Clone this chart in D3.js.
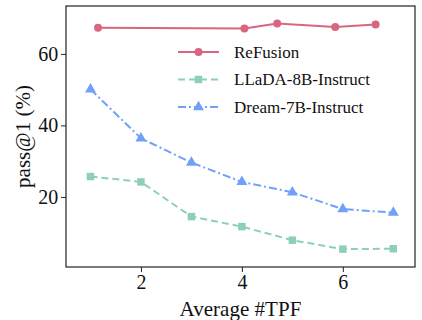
<!DOCTYPE html>
<html>
<head>
<meta charset="utf-8">
<script src="https://cdn.jsdelivr.net/npm/d3@7"></script>
<style>
  html, body { margin: 0; padding: 0; background: #fff; }
</style>
</head>
<body>
<div id="app"></div>
<script>
const refusionX = [1.15, 4.05, 4.7, 5.85, 6.65]
const refusionY = [67.3, 67.1, 68.5, 67.5, 68.2]
const baseX = [1, 2, 3, 4, 5, 6, 7]
const lladaY = [25.7, 24.2, 14.5, 11.7, 7.9, 5.4, 5.5]
const dreamY = [50.1, 36.4, 29.6, 24.2, 21.3, 16.6, 15.6]
const xTicks = [2, 4, 6]
const yTicks = [20, 40, 60]

const seriesNames = ['ReFusion', 'LLaDA-8B-Instruct', 'Dream-7B-Instruct']
const seriesColors = ['#d9667f', '#8dcfbc', '#6fa1fa']

// big sizes fall back to sans here, so draw at 18px and scale up
const FONT = 'Liberation Serif'
const width = 422, height = 320
const margin = { top: 6, right: 7, bottom: 53, left: 66 }

const svg = d3.select('#app').append('svg')
  .attr('width', width).attr('height', height)

const x = d3.scaleLinear().domain([0.515, 7.43]).range([margin.left, width - margin.right])
const y = d3.scaleLinear().domain([0.4, 73.4]).range([height - margin.bottom, margin.top])

const series = [
  { name: seriesNames[0], color: seriesColors[0], dash: null, marker: 'circle',
    pts: refusionX.map((d, i) => [d, refusionY[i]]) },
  { name: seriesNames[1], color: seriesColors[1], dash: '7,4', marker: 'square',
    pts: baseX.map((d, i) => [d, lladaY[i]]) },
  { name: seriesNames[2], color: seriesColors[2], dash: '8,3,2,3', marker: 'triangle',
    pts: baseX.map((d, i) => [d, dreamY[i]]) },
]

const symbols = { circle: d3.symbolCircle, square: d3.symbolSquare, triangle: d3.symbolTriangle }
const symbolSize = { circle: 50, square: 56, triangle: 52 }

const line = d3.line().x((d) => x(d[0])).y((d) => y(d[1]))

const g = svg.append('g')

series.forEach((s) => {
  g.append('path')
    .datum(s.pts)
    .attr('d', line)
    .attr('fill', 'none')
    .attr('stroke', s.color)
    .attr('stroke-width', 2)
    .attr('stroke-dasharray', s.dash)
  g.selectAll(null)
    .data(s.pts)
    .join('path')
    .attr('transform', (d) => `translate(${x(d[0])},${y(d[1])})`)
    .attr('d', d3.symbol(symbols[s.marker], symbolSize[s.marker]))
    .attr('fill', s.color)
})

// axes
const xAxis = svg.append('g')
  .attr('transform', `translate(0,${height - margin.bottom})`)
  .call(d3.axisBottom(x).tickValues(xTicks).tickFormat(d3.format('d')).tickSize(5).tickPadding(2))
const yAxis = svg.append('g')
  .attr('transform', `translate(${margin.left},0)`)
  .call(d3.axisLeft(y).tickValues(yTicks).tickFormat(d3.format('d')).tickSize(5).tickPadding(2))

;[xAxis, yAxis].forEach((a) => {
  a.select('.domain').remove()
  a.attr('font-family', FONT)
  a.selectAll('text')
    .attr('font-family', FONT).attr('font-size', 18).attr('fill', '#111')
    .attr('transform', 'scale(1.11)')
  a.selectAll('line').attr('stroke', '#222').attr('stroke-width', 1)
})

svg.append('rect')
  .attr('x', margin.left).attr('y', margin.top)
  .attr('width', width - margin.left - margin.right)
  .attr('height', height - margin.top - margin.bottom)
  .attr('fill', 'none').attr('stroke', '#222').attr('stroke-width', 1.2)

svg.append('text')
  .attr('transform', `translate(${(margin.left + width - margin.right) / 2},316) scale(1.17)`)
  .attr('text-anchor', 'middle')
  .attr('font-family', FONT)
  .attr('font-size', 18)
  .attr('fill', '#111')
  .text('Average #TPF')

svg.append('text')
  .attr('transform', `translate(30,${(margin.top + height - margin.bottom) / 2}) rotate(-90) scale(1.17)`)
  .attr('text-anchor', 'middle')
  .attr('font-family', FONT)
  .attr('font-size', 18)
  .attr('fill', '#111')
  .text('pass@1 (%)')

// legend
const legend = svg.append('g')
series.forEach((s, i) => {
  const ly = 52 + i * 27.5
  legend.append('line')
    .attr('x1', 178).attr('x2', 219).attr('y1', ly).attr('y2', ly)
    .attr('stroke', s.color).attr('stroke-width', 2)
    .attr('stroke-dasharray', s.dash)
  legend.append('path')
    .attr('transform', `translate(198.5,${ly})`)
    .attr('d', d3.symbol(symbols[s.marker], symbolSize[s.marker]))
    .attr('fill', s.color)
  legend.append('text')
    .attr('x', 234).attr('y', ly + 5.5)
    .attr('font-family', FONT)
    .attr('font-size', 17)
    .attr('fill', '#111')
    .text(s.name)
})
</script>
</body>
</html>
